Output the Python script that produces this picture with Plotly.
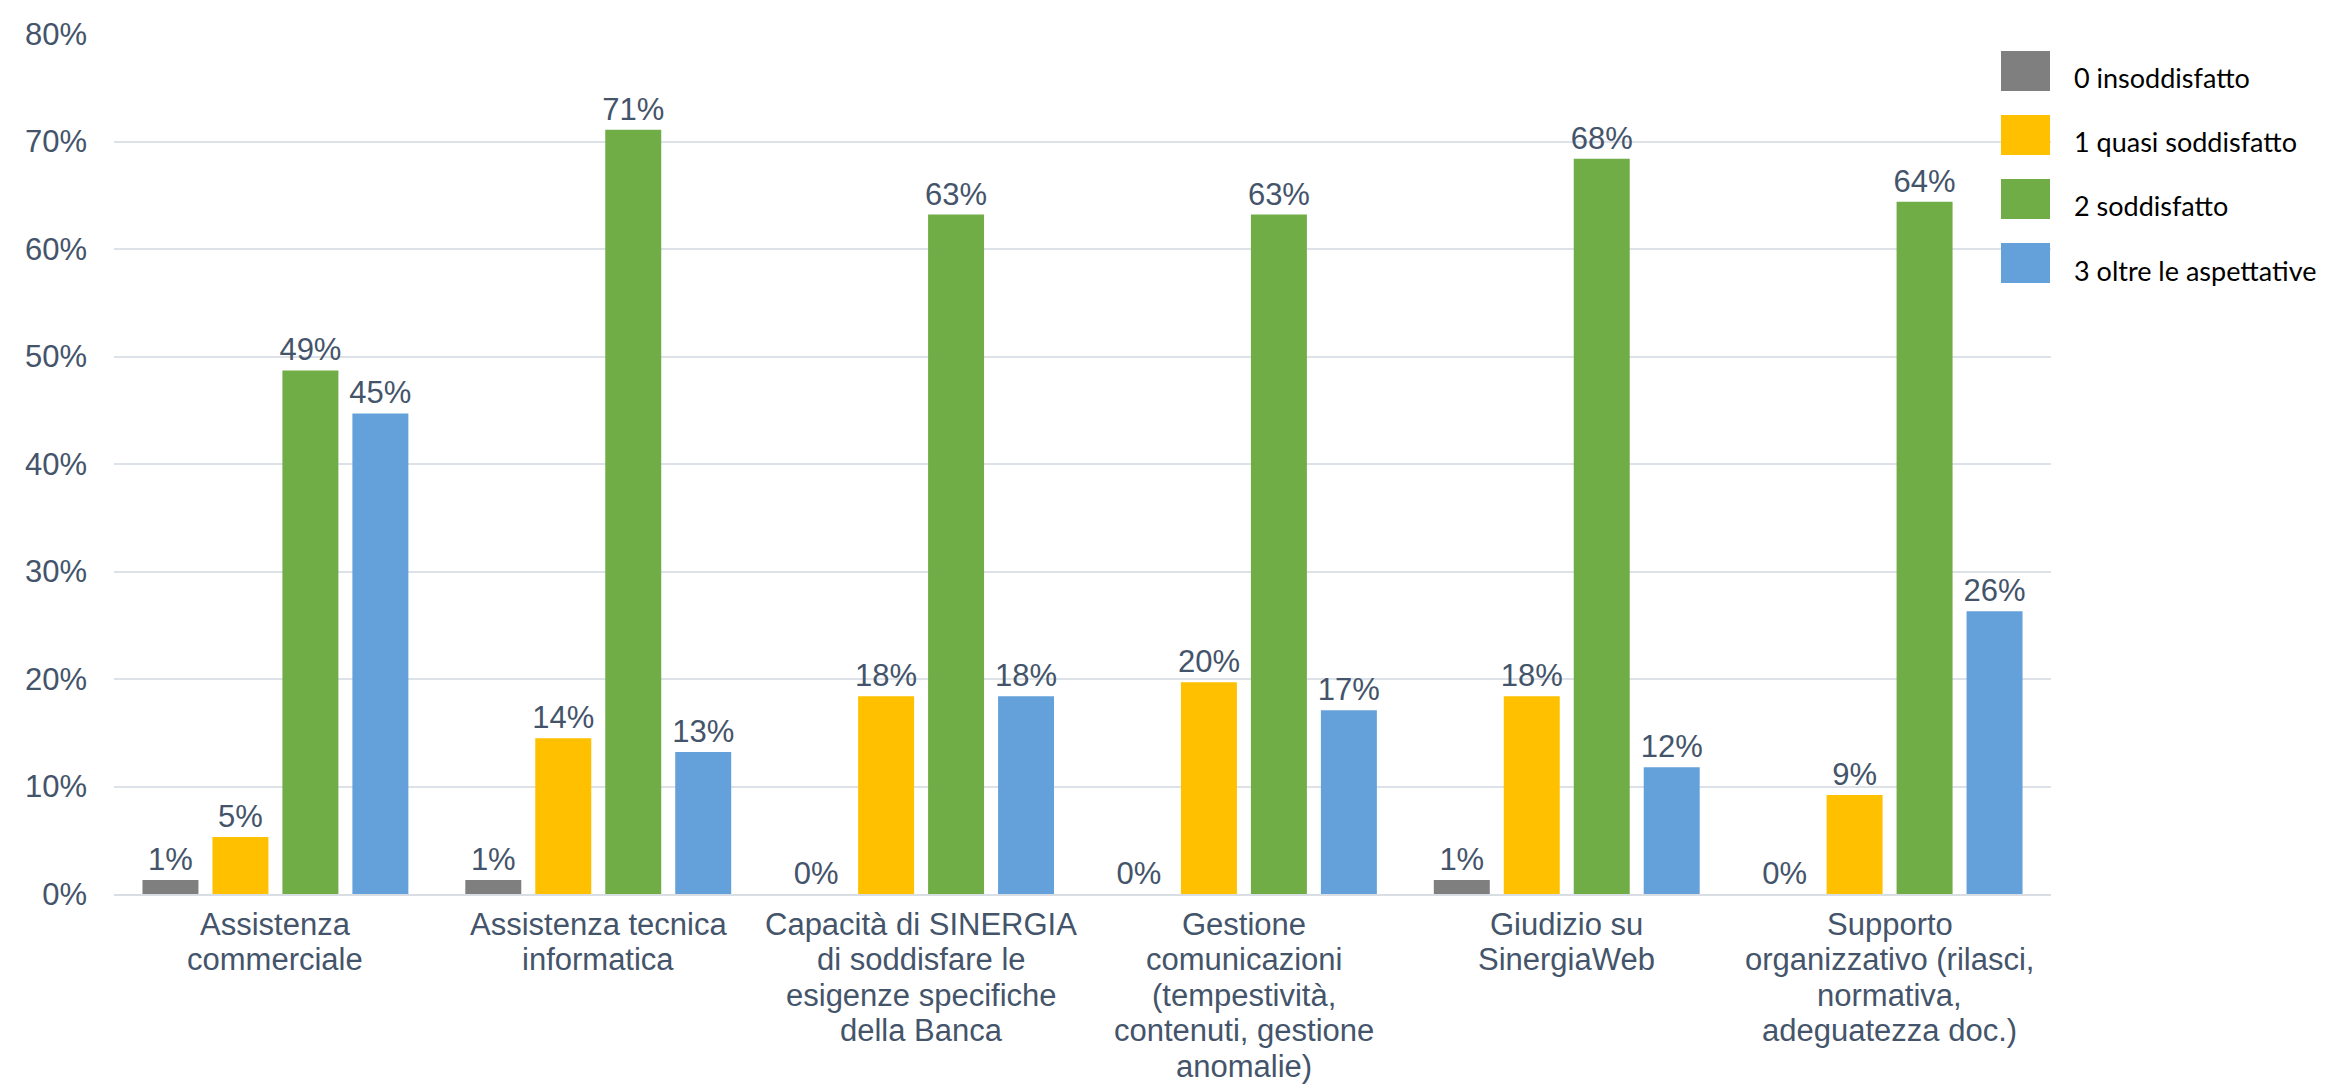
import plotly.graph_objects as go

category_lines = [
    ["Assistenza", "commerciale"],
    ["Assistenza tecnica", "informatica"],
    ["Capacità di SINERGIA", "di soddisfare le", "esigenze specifiche", "della Banca"],
    ["Gestione", "comunicazioni", "(tempestività,", "contenuti, gestione", "anomalie)"],
    ["Giudizio su", "SinergiaWeb"],
    ["Supporto", "organizzativo (rilasci,", "normativa,", "adeguatezza doc.)"],
]
categories = [" ".join(lines) for lines in category_lines]
series_names = ["0 insoddisfatto", "1 quasi soddisfatto", "2 soddisfatto", "3 oltre le aspettative"]
insoddisfatto = [0.013, 0.013, 0.0, 0.0, 0.013, 0.0]
quasi_soddisfatto = [0.053, 0.145, 0.184, 0.197, 0.184, 0.092]
soddisfatto = [0.487, 0.711, 0.632, 0.632, 0.684, 0.644]
oltre_aspettative = [0.447, 0.132, 0.184, 0.171, 0.118, 0.263]
series_values = [insoddisfatto, quasi_soddisfatto, soddisfatto, oltre_aspettative]
colors = ["#7F7F7F", "#FFC000", "#70AD47", "#64A1DA"]
y_ticks = [0, 0.1, 0.2, 0.3, 0.4, 0.5, 0.6, 0.7, 0.8]

W, H = 2341, 1086
L, R, T, B = 106, 298, 26, 200
TXT = "#44546A"
FONT = "Liberation Sans, Arial, sans-serif"

fig = go.Figure()
for name, vals, col in zip(series_names, series_values, colors):
    fig.add_trace(go.Bar(
        x=categories, y=vals, name=name, marker=dict(color=col, line=dict(width=0)),
        texttemplate="%{y:.0%}", textposition="outside", constraintext="none",
        cliponaxis=False, textfont=dict(family=FONT, size=31, color=TXT),
        showlegend=False,
    ))

pw, ph = W - L - R, H - T - B
def px_x(x):
    return (x - L) / pw
def px_y(y):
    return (H - B - y) / ph

shapes, annotations = [], []
# manual legend (large squares like the original)
for i, (name, col) in enumerate(zip(series_names, colors)):
    top = 43 + i * 64
    shapes.append(dict(type="rect", xref="paper", yref="paper",
                       x0=px_x(1993), x1=px_x(2042), y0=px_y(top), y1=px_y(top + 40),
                       fillcolor=col, line=dict(width=0), layer="above"))
    annotations.append(dict(xref="paper", yref="paper", x=px_x(2064), y=px_y(top + 27),
                            text=name, showarrow=False, xanchor="left", yanchor="middle",
                            font=dict(family="Lato, Carlito, sans-serif", size=27, color="#000000")))

# category labels with tight line spacing (as in the original)
for cat, lines in zip(categories, category_lines):
    for j, line in enumerate(lines):
        annotations.append(dict(xref="x", yref="paper", x=cat, y=px_y(916 + 35.6 * j),
                                text=line, showarrow=False, xanchor="center", yanchor="middle",
                                borderpad=0,
                                font=dict(family=FONT, size=31, color=TXT)))

fig.update_layout(
    width=W, height=H,
    margin=dict(l=L, r=R, t=T, b=B, autoexpand=False),
    paper_bgcolor="white", plot_bgcolor="white",
    barmode="group", bargap=0.133, bargroupgap=0.2,
    font=dict(family=FONT, size=31, color=TXT),
    shapes=shapes, annotations=annotations,
    xaxis=dict(automargin=False, showgrid=False, showline=True, linecolor="#D9DEE5", linewidth=2,
               showticklabels=False, ticks=""),
    yaxis=dict(automargin=False, range=[0, 0.8], tickvals=y_ticks, tickformat=".0%",
               showgrid=True, gridcolor="#DDE2E8", gridwidth=2, zeroline=False,
               showline=False, ticks="", ticklabelstandoff=26,
               tickfont=dict(family=FONT, size=31, color=TXT)),
)

fig.write_html("out.html")
